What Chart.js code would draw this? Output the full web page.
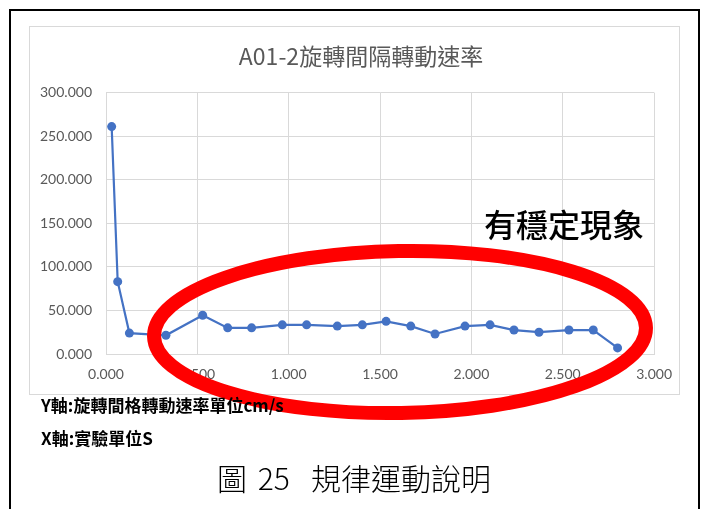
<!DOCTYPE html>
<html>
<head>
<meta charset="utf-8">
<script src="https://cdn.jsdelivr.net/npm/chart.js@4"></script>
<style>
  html, body { margin: 0; padding: 0; background: #fff; width: 701px; height: 509px; overflow: hidden; }
  #frame  { position: absolute; left: 9px; top: 9px; width: 691px; height: 520px; border: 2px solid #000; box-sizing: border-box; }
  #chartBox { position: absolute; left: 29px; top: 26px; width: 651px; height: 369px; border: 1px solid #d9d9d9; box-sizing: border-box; }
  #rateChart { position: absolute; left: 30px; top: 27px; }
  #ring { position: absolute; left: 0; top: 0; }
  .note { position: absolute; font-family: "Noto Sans CJK TC", sans-serif; color: #000; white-space: nowrap; }
  #stable { left: 484px; top: 203px; font-size: 32px; line-height: 40px; font-weight: 500; }
  #yNote  { left: 41px; top: 394px; font-size: 17px; font-weight: bold; line-height: 22px; }
  #xNote  { left: 41px; top: 427px; font-size: 17px; font-weight: bold; line-height: 22px; }
  #caption { left: 217px; top: 457px; font-size: 30px; line-height: 40px; font-weight: 300; word-spacing: 4px; }
</style>
</head>
<body>
<div id="frame"></div>
<div id="chartBox"></div>
<canvas id="rateChart" width="654" height="367"></canvas>
<div id="stable" class="note">有穩定現象</div>
<svg id="ring" width="701" height="509">
  <ellipse cx="400" cy="332" rx="246" ry="81" fill="none" stroke="#ff0000" stroke-width="14" transform="rotate(-1 400 332)"/>
</svg>
<div id="yNote" class="note">Y軸:旋轉間格轉動速率單位cm/s</div>
<div id="xNote" class="note">X軸:實驗單位S</div>
<div id="caption" class="note">圖 25&nbsp; 規律運動說明</div>

<script>
/* data */
const chartTitle = 'A01-2旋轉間隔轉動速率';
const timeS  = [0.031, 0.064, 0.128, 0.328, 0.529, 0.666, 0.797, 0.965, 1.098, 1.266, 1.403,
                1.533, 1.668, 1.801, 1.965, 2.102, 2.233, 2.370, 2.534, 2.667, 2.800];
const speed  = [261.0, 83.0, 24.0, 21.5, 44.5, 30.0, 30.0, 33.5, 33.5, 32.0, 33.5,
                37.5, 32.0, 23.0, 32.0, 33.5, 27.5, 25.0, 27.5, 27.5, 7.0];
const xTicks = [0, 0.5, 1, 1.5, 2, 2.5, 3];
const yTicks = [0, 50, 100, 150, 200, 250, 300];

const points = timeS.map((t, i) => ({ x: t, y: speed[i] }));
const tickFont = { family: 'Lato, "Open Sans", sans-serif', size: 14 };

new Chart(document.getElementById('rateChart'), {
  type: 'scatter',
  data: {
    datasets: [{
      data: points,
      showLine: true,
      borderColor: '#4472c4',
      backgroundColor: '#4472c4',
      borderWidth: 2.2,
      pointRadius: 4.5,
      pointBorderWidth: 0
    }]
  },
  options: {
    responsive: false,
    animation: false,
    // uneven padding nudges the centred title right, like the Excel original
    layout: { padding: { top: 0, right: 2, left: 10, bottom: 0 } },
    plugins: {
      legend:  { display: false },
      tooltip: { enabled: false },
      title: {
        display: true,
        text: chartTitle,
        color: '#595959',
        font: { family: '"Noto Sans CJK TC", sans-serif', size: 23, weight: 'normal' },
        padding: { top: 15, bottom: 23 }
      }
    },
    scales: {
      x: {
        type: 'linear',
        min: xTicks[0],
        max: xTicks[xTicks.length - 1],
        afterBuildTicks: s => { s.ticks = xTicks.map(v => ({ value: v })); },
        afterFit: s => { s.height = 40; },
        grid:   { color: '#d9d9d9', drawTicks: false },
        border: { color: '#d9d9d9' },
        ticks:  { color: '#595959', font: tickFont, padding: 12, maxRotation: 0, callback: v => v.toFixed(3) }
      },
      y: {
        min: yTicks[0],
        max: yTicks[yTicks.length - 1],
        afterBuildTicks: s => { s.ticks = yTicks.map(v => ({ value: v })); },
        afterFit: s => { s.width = 66; },
        grid:   { color: '#d9d9d9', drawTicks: false },
        border: { color: '#d9d9d9' },
        ticks:  { color: '#595959', font: tickFont, padding: 14, callback: v => v.toFixed(3) }
      }
    }
  }
});
</script>
</body>
</html>
